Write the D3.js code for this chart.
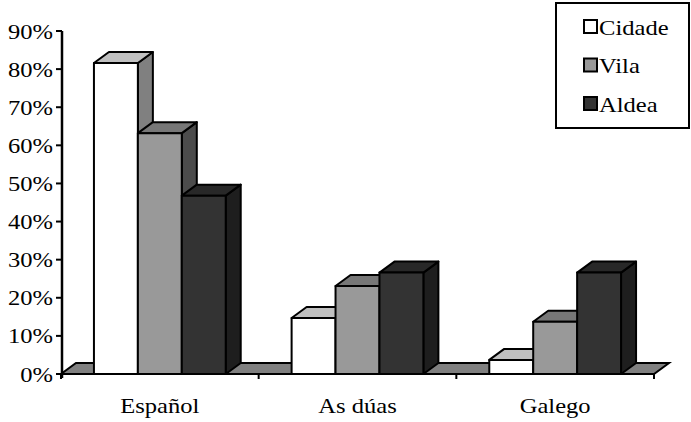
<!DOCTYPE html>
<html>
<head>
<meta charset="utf-8">
<script src="https://cdn.jsdelivr.net/npm/d3@7"></script>
<style>
  html, body { margin: 0; padding: 0; background: #fff; }
  svg { display: block; }
  text { font-family: "Liberation Serif", "Times New Roman", serif; font-size: 21px; fill: #000; }
</style>
</head>
<body>
<svg id="chart" width="691" height="422"></svg>
<script>
// Language use by place of residence (share of respondents)
const categories = ["Español", "As dúas", "Galego"];
const series = ["Cidade", "Vila", "Aldea"];
const cidade = [81.6, 14.7, 3.7];
const vila = [63.2, 23.1, 13.7];
const aldea = [46.8, 26.6, 26.6];
const yTicks = [0, 10, 20, 30, 40, 50, 60, 70, 80, 90];

const values = { Cidade: cidade, Vila: vila, Aldea: aldea };
// front / top / side shades for each series
const shades = {
  Cidade: { front: "#ffffff", top: "#c0c0c0", side: "#808080" },
  Vila:   { front: "#999999", top: "#777777", side: "#4c4c4c" },
  Aldea:  { front: "#333333", top: "#282828", side: "#1e1e1e" }
};

const svg = d3.select("#chart");
const stretch = 1.17;             // horizontal text stretch
const depthX = 15, depthY = -11;  // 3D depth offset

const x0 = d3.scaleBand().domain(categories).range([61, 654]).paddingInner(0).paddingOuter(0);
const x1 = d3.scaleBand().domain(series).range([0, x0.bandwidth()]).paddingInner(0).paddingOuter(0.75);
const y = d3.scaleLinear().domain([0, 90]).range([374, 31]);

const poly = pts => pts.map(p => p.join(",")).join(" ");

// floor
svg.append("polygon")
  .attr("points", poly([[61, y(0)], [654, y(0)], [654 + depthX, y(0) + depthY], [61 + depthX, y(0) + depthY]]))
  .attr("fill", "#808080").attr("stroke", "#000").attr("stroke-width", 2).attr("stroke-linejoin", "miter");

// bars (drawn left to right so each covers the side of the previous one)
const bars = [];
categories.forEach((c, ci) => series.forEach(s => bars.push({ c, s, v: values[s][ci] })));

const g = svg.append("g");
bars.forEach(d => {
  const xl = x0(d.c) + x1(d.s);
  const xr = xl + x1.bandwidth();
  const yt = y(d.v), yb = y(0);
  const col = shades[d.s];
  const bar = g.append("g");
  bar.append("polygon") // side
    .attr("points", poly([[xr, yb], [xr, yt], [xr + depthX, yt + depthY], [xr + depthX, yb + depthY]]))
    .attr("fill", col.side);
  bar.append("polygon") // top
    .attr("points", poly([[xl, yt], [xl + depthX, yt + depthY], [xr + depthX, yt + depthY], [xr, yt]]))
    .attr("fill", col.top);
  bar.append("rect") // front
    .attr("x", xl).attr("y", yt).attr("width", xr - xl).attr("height", yb - yt)
    .attr("fill", col.front);
  bar.selectAll("*").attr("stroke", "#000").attr("stroke-width", 2).attr("stroke-linejoin", "round");
});

// value axis
const yAxis = svg.append("g");
yAxis.append("line").attr("x1", 62).attr("x2", 62).attr("y1", y(90)).attr("y2", y(0) + 4)
  .attr("stroke", "#000").attr("stroke-width", 2.5);
yTicks.forEach(t => {
  yAxis.append("line").attr("x1", 56).attr("x2", 62).attr("y1", y(t)).attr("y2", y(t))
    .attr("stroke", "#000").attr("stroke-width", 2);
  yAxis.append("text")
    .attr("transform", `translate(53,${y(t) + 7.5}) scale(${stretch},1)`)
    .attr("text-anchor", "end")
    .text(t + "%");
});

// category axis ticks and labels
const xAxis = svg.append("g");
const edges = categories.map(c => x0(c)).concat([x0(categories[categories.length - 1]) + x0.bandwidth()]);
edges.forEach(e => {
  xAxis.append("line").attr("x1", e).attr("x2", e).attr("y1", y(0)).attr("y2", y(0) + 5)
    .attr("stroke", "#000").attr("stroke-width", 2);
});
categories.forEach(c => {
  xAxis.append("text")
    .attr("transform", `translate(${x0(c) + x0.bandwidth() / 2},413) scale(${stretch},1)`)
    .attr("text-anchor", "middle")
    .text(c);
});

// legend
const legend = svg.append("g");
legend.append("rect").attr("x", 556).attr("y", 3).attr("width", 133).attr("height", 125)
  .attr("fill", "#fff").attr("stroke", "#000").attr("stroke-width", 2);
series.forEach((s, i) => {
  const cy = 27 + i * 38.5;
  legend.append("rect").attr("x", 584).attr("y", cy - 7).attr("width", 13).attr("height", 13)
    .attr("fill", shades[s].front).attr("stroke", "#000").attr("stroke-width", 2);
  legend.append("text")
    .attr("transform", `translate(599,${cy + 7.5}) scale(${stretch},1)`)
    .text(s);
});
</script>
</body>
</html>
